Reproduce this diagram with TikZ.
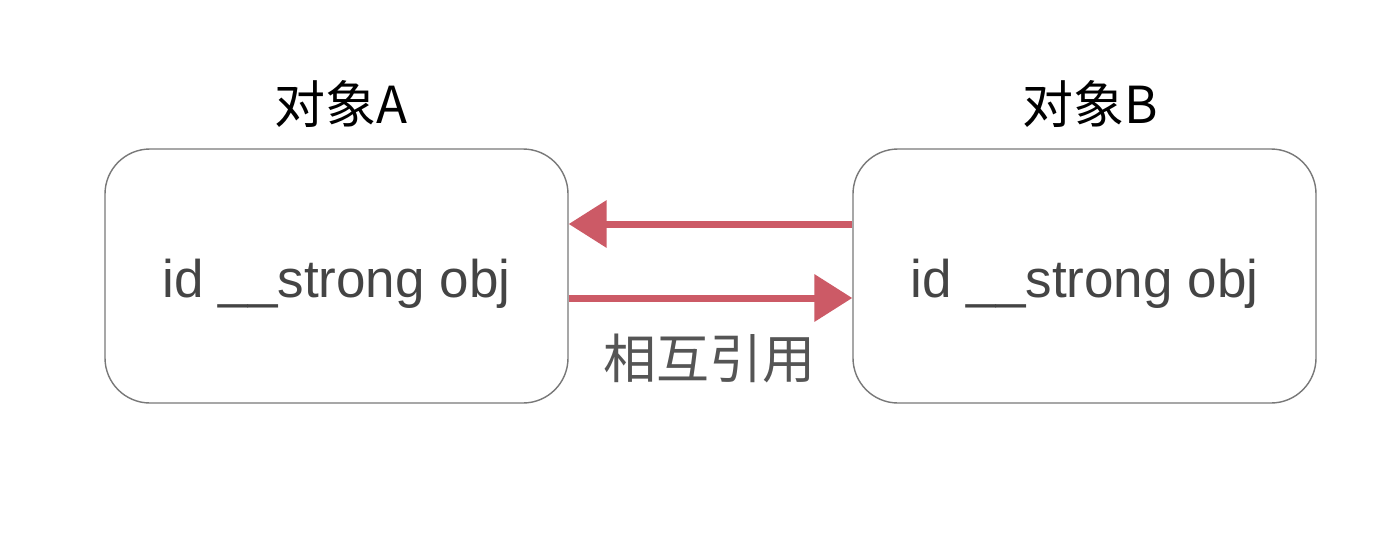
\documentclass[tikz,border=0pt]{standalone}
\usepackage{fontspec}
\setmainfont{Liberation Sans}
\newfontfamily\cjk{Noto Sans CJK SC}
\usetikzlibrary{arrows.meta}
\definecolor{refred}{RGB}{204,90,102}
\definecolor{boxline}{RGB}{120,120,120}
\definecolor{bodytext}{RGB}{68,68,68}
\definecolor{labeltext}{RGB}{85,85,85}
\begin{document}
\begin{tikzpicture}[x=1pt,y=-1pt,
  objbox/.style={draw=boxline,line width=1.4pt,rounded corners=45pt,
    minimum width=463pt,minimum height=254pt,inner sep=0pt},
  objtext/.style={font=\fontsize{53}{60}\selectfont,text=bodytext,inner sep=0pt},
  title/.style={font=\cjk\fontsize{51}{58}\selectfont,text=black,inner sep=0pt},
  ref/.style={draw=refred,line width=7pt,
    -{Triangle[length=38pt,width=46pt]}}]
\useasboundingbox[fill=white] (0,0) rectangle (1376,542);

% the two objects
\node[objbox] (A) at (336.5,276) {};
\node[objbox] (B) at (1084.5,276) {};
\node[objtext] (Atext) at ([yshift=-8pt]A.center) {id \_\_strong obj};
\node[objtext] (Btext) at ([yshift=-8pt]B.center) {id \_\_strong obj};

% titles above the objects
\node[title] (tA) at (341,104) {对象A};
\node[title] (tB) at (1090,104) {对象B};

% references in both directions
\draw[ref] ([yshift=52pt]B.west) -- ([yshift=52pt]A.east);
\draw[ref] ([yshift=-22pt]A.east) -- ([yshift=-22pt]B.west);

\node[font=\cjk\fontsize{53}{60}\selectfont,text=labeltext,inner sep=0pt]
  (lbl) at (709,358) {相互引用};
\end{tikzpicture}
\end{document}
